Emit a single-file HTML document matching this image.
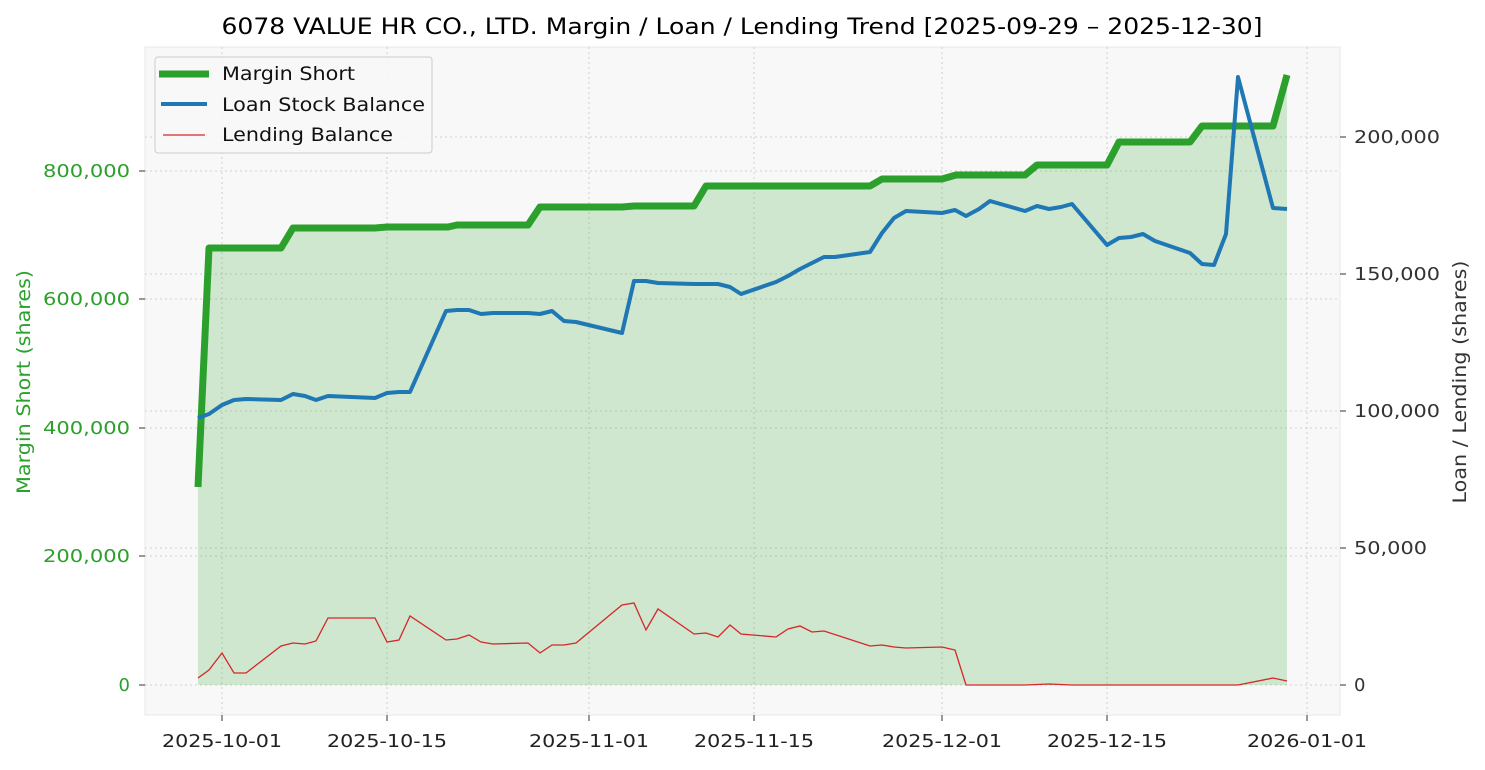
<!DOCTYPE html>
<html><head><meta charset="utf-8"><style>
html,body{margin:0;padding:0;background:#fff;}
svg text{font-family:"DejaVu Sans","Liberation Sans",sans-serif;}
</style></head><body>
<svg width="1485" height="765" xmlns="http://www.w3.org/2000/svg">
<rect x="0" y="0" width="1485" height="765" fill="#fff"/>
<rect x="145" y="47" width="1195" height="668" fill="#f8f8f8" stroke="#e8e8e8"/>
<text x="742" y="34" font-size="22" text-anchor="middle" fill="#000" textLength="1041" lengthAdjust="spacingAndGlyphs">6078 VALUE HR CO., LTD. Margin / Loan / Lending Trend [2025-09-29 – 2025-12-30]</text>
<g stroke="#d0d0d0" stroke-width="1" stroke-dasharray="2,3">
<line x1="222" y1="47" x2="222" y2="715"/><line x1="387" y1="47" x2="387" y2="715"/><line x1="589" y1="47" x2="589" y2="715"/><line x1="754" y1="47" x2="754" y2="715"/><line x1="942" y1="47" x2="942" y2="715"/><line x1="1107" y1="47" x2="1107" y2="715"/><line x1="1307" y1="47" x2="1307" y2="715"/>
<line x1="145" y1="685" x2="1340" y2="685"/><line x1="145" y1="556" x2="1340" y2="556"/><line x1="145" y1="428" x2="1340" y2="428"/><line x1="145" y1="299" x2="1340" y2="299"/><line x1="145" y1="171" x2="1340" y2="171"/>
<line x1="145" y1="548" x2="1340" y2="548"/><line x1="145" y1="411" x2="1340" y2="411"/><line x1="145" y1="274" x2="1340" y2="274"/><line x1="145" y1="137" x2="1340" y2="137"/>
</g>
<polygon fill="#2ca02c" fill-opacity="0.2" points="198,685 198,487 209,248 281,248 293,228 375,228 387,227 448,227 457,225 528,225 540,207 622,207 634,206 694,206 706,186 870,186 882,179 942,179 956,175 1025,175 1037,165 1107,165 1119,142 1190,142 1202,126 1273,126 1287,75 1287,685"/>
<polyline fill="none" stroke="#d62728" stroke-width="1.3" points="198,678 209,670 222,653 234,673 246,673 281,646 293,643 305,644 316,641 328,618 375,618 387,642 399,640 410,616 446,640 457,639 469,635 481,642 493,644 528,643 540,653 552,645 564,645 576,643 622,605 634,603 646,630 658,609 694,634 706,633 718,637 730,625 741,634 776,637 788,629 800,626 812,632 824,631 870,646 882,645 894,647 906,648 942,647 955,650 966,685 1025,685 1049,684 1072,685 1238,685 1273,678 1287,681"/>
<polyline fill="none" stroke="#2ca02c" stroke-width="7" stroke-linejoin="round" points="198,487 209,248 281,248 293,228 375,228 387,227 448,227 457,225 528,225 540,207 622,207 634,206 694,206 706,186 870,186 882,179 942,179 956,175 1025,175 1037,165 1107,165 1119,142 1190,142 1202,126 1273,126 1287,75"/>
<polyline fill="none" stroke="#1f77b4" stroke-width="4" stroke-linejoin="round" points="198,418 209,414 222,405 234,400 246,399 281,400 293,394 305,396 316,400 328,396 375,398 387,393 399,392 410,392 446,311 457,310 469,310 481,314 493,313 528,313 540,314 552,311 564,321 576,322 622,333 634,281 646,281 658,283 694,284 718,284 730,287 741,294 776,282 788,276 800,269 812,263 824,257 835,257 870,252 882,233 894,218 906,211 942,213 955,210 966,216 979,209 990,201 1025,211 1037,206 1049,209 1061,207 1072,204 1107,245 1119,238 1131,237 1143,234 1155,241 1190,253 1202,264 1214,265 1226,234 1238,77 1273,208 1287,209"/>
<g font-size="18" fill="#2ca02c" text-anchor="end">
<text x="130" y="691">0</text><text x="130" y="562" textLength="87" lengthAdjust="spacingAndGlyphs">200,000</text><text x="130" y="434" textLength="87" lengthAdjust="spacingAndGlyphs">400,000</text><text x="130" y="305" textLength="87" lengthAdjust="spacingAndGlyphs">600,000</text><text x="130" y="177" textLength="87" lengthAdjust="spacingAndGlyphs">800,000</text>
</g>
<g stroke="#333"><line x1="139" y1="685" x2="145" y2="685"/><line x1="139" y1="556" x2="145" y2="556"/><line x1="139" y1="428" x2="145" y2="428"/><line x1="139" y1="299" x2="145" y2="299"/><line x1="139" y1="171" x2="145" y2="171"/>
<line x1="1340" y1="685" x2="1346" y2="685"/><line x1="1340" y1="548" x2="1346" y2="548"/><line x1="1340" y1="411" x2="1346" y2="411"/><line x1="1340" y1="274" x2="1346" y2="274"/><line x1="1340" y1="137" x2="1346" y2="137"/>
<line x1="222" y1="715" x2="222" y2="721"/><line x1="387" y1="715" x2="387" y2="721"/><line x1="589" y1="715" x2="589" y2="721"/><line x1="754" y1="715" x2="754" y2="721"/><line x1="942" y1="715" x2="942" y2="721"/><line x1="1107" y1="715" x2="1107" y2="721"/><line x1="1307" y1="715" x2="1307" y2="721"/></g>
<g font-size="18" fill="#333" text-anchor="start">
<text x="1354" y="691">0</text><text x="1354" y="554" textLength="73" lengthAdjust="spacingAndGlyphs">50,000</text><text x="1354" y="417" textLength="86" lengthAdjust="spacingAndGlyphs">100,000</text><text x="1354" y="280" textLength="86" lengthAdjust="spacingAndGlyphs">150,000</text><text x="1354" y="143" textLength="86" lengthAdjust="spacingAndGlyphs">200,000</text>
</g>
<g font-size="18" fill="#222" text-anchor="middle">
<text x="222" y="747" textLength="120" lengthAdjust="spacingAndGlyphs">2025-10-01</text><text x="387" y="747" textLength="120" lengthAdjust="spacingAndGlyphs">2025-10-15</text><text x="589" y="747" textLength="120" lengthAdjust="spacingAndGlyphs">2025-11-01</text><text x="754" y="747" textLength="120" lengthAdjust="spacingAndGlyphs">2025-11-15</text><text x="942" y="747" textLength="120" lengthAdjust="spacingAndGlyphs">2025-12-01</text><text x="1107" y="747" textLength="120" lengthAdjust="spacingAndGlyphs">2025-12-15</text><text x="1307" y="747" textLength="120" lengthAdjust="spacingAndGlyphs">2026-01-01</text>
</g>
<text transform="translate(30,382) rotate(-90)" font-size="19" fill="#2ca02c" text-anchor="middle" textLength="224" lengthAdjust="spacingAndGlyphs">Margin Short (shares)</text>
<text transform="translate(1466,382) rotate(-90)" font-size="19" fill="#333" text-anchor="middle" textLength="243" lengthAdjust="spacingAndGlyphs">Loan / Lending (shares)</text>
<rect x="155" y="57" width="277" height="96" rx="3" fill="#f8f8f8" fill-opacity="0.85" stroke="#ccc"/>
<line x1="159" y1="74" x2="209" y2="74" stroke="#2ca02c" stroke-width="7"/>
<line x1="161" y1="104" x2="207" y2="104" stroke="#1f77b4" stroke-width="4"/>
<line x1="163" y1="135" x2="205" y2="135" stroke="#d62728" stroke-width="1.3"/>
<g font-size="19" fill="#111"><text x="222" y="80" textLength="133" lengthAdjust="spacingAndGlyphs">Margin Short</text><text x="222" y="111" textLength="203" lengthAdjust="spacingAndGlyphs">Loan Stock Balance</text><text x="222" y="141" textLength="171" lengthAdjust="spacingAndGlyphs">Lending Balance</text></g>
</svg>
</body></html>
